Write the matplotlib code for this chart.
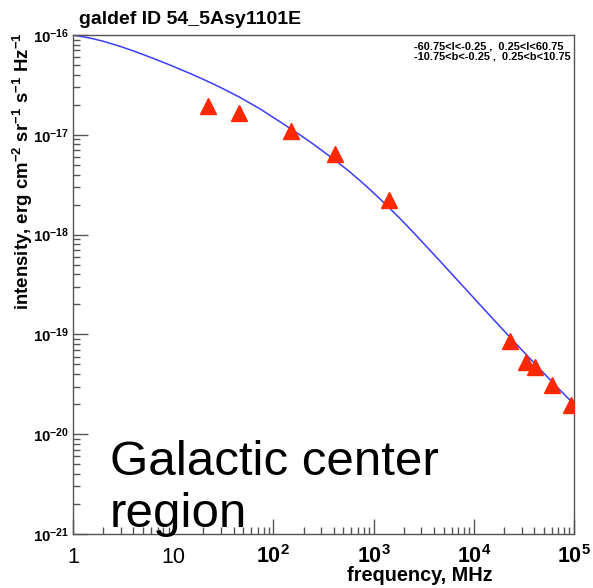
import numpy as np
import matplotlib
matplotlib.use("Agg")
import matplotlib.pyplot as plt
from matplotlib.ticker import LogLocator, FixedLocator, FixedFormatter, NullFormatter

plt.rcParams['font.family'] = ['Liberation Sans', 'DejaVu Sans']
plt.rcParams['mathtext.fontset'] = 'custom'
plt.rcParams['mathtext.rm'] = 'Liberation Sans:bold'
plt.rcParams['mathtext.bf'] = 'Liberation Sans:bold'
plt.rcParams['mathtext.default'] = 'rm'

# synchrotron model curve (MHz, erg cm^-2 sr^-1 s^-1 Hz^-1)
model_freq = [1.0, 1.48, 1.99, 2.94, 4.35, 6.58, 9.29, 14.7, 20.8, 29.3,
              46.4, 73.5, 116.4, 184.3, 248.5, 431.3, 581.6, 784.2, 1033,
              1360, 1834, 2474, 3411, 4599, 6200, 8554, 11530, 18260, 22450,
              32430, 45790, 64630, 91230, 100000]
model_int = [1.00e-16, 9.32e-17, 8.67e-17, 7.71e-17, 6.72e-17, 5.74e-17,
             5.00e-17, 4.12e-17, 3.53e-17, 3.00e-17, 2.37e-17, 1.82e-17,
             1.35e-17, 9.97e-18, 8.10e-18, 5.38e-18, 4.23e-18, 3.27e-18,
             2.54e-18, 1.95e-18, 1.45e-18, 1.06e-18, 7.50e-19, 5.43e-19,
             3.91e-19, 2.75e-19, 1.98e-19, 1.20e-19, 9.59e-20, 6.46e-20,
             4.48e-20, 3.12e-20, 2.19e-20, 2.00e-20]

# radio survey data points
data_freq = [22, 45, 150, 408, 1420, 22800, 33000, 41000, 61000, 94000]
data_int = [1.95e-17, 1.65e-17, 1.09e-17, 6.4e-18, 2.2e-18,
            8.5e-20, 5.25e-20, 4.7e-20, 3.1e-20, 1.95e-20]

x_ticks = [1, 10, 1e2, 1e3, 1e4, 1e5]
x_labels = ['1', '10', '$10^{2}$', '$10^{3}$', '$10^{4}$', '$10^{5}$']
y_ticks = [1e-21, 1e-20, 1e-19, 1e-18, 1e-17, 1e-16]
y_labels = ['$10^{-21}$', '$10^{-20}$', '$10^{-19}$', '$10^{-18}$',
            '$10^{-17}$', '$10^{-16}$']

fig = plt.figure(figsize=(5.93, 5.88), dpi=100)
ax = fig.add_axes([73 / 593, 1 - 534 / 588, 501 / 593, 499 / 588])

ax.plot(model_freq, model_int, color='#3c3cff', lw=1.1, zorder=2)
ax.plot(data_freq, data_int, linestyle='none', marker='^', ms=11.5,
        color='#ff2800', mec='#ff2800', zorder=3)

ax.set_xscale('log')
ax.set_yscale('log')
ax.set_xlim(1, 1e5)
ax.set_ylim(1e-21, 1e-16)

ax.xaxis.set_major_locator(FixedLocator(x_ticks))
ax.xaxis.set_major_formatter(FixedFormatter(x_labels))
ax.yaxis.set_major_locator(FixedLocator(y_ticks))
ax.yaxis.set_major_formatter(FixedFormatter(y_labels))
ax.xaxis.set_minor_locator(LogLocator(base=10, subs=np.arange(2, 10), numticks=20))
ax.yaxis.set_minor_locator(LogLocator(base=10, subs=np.arange(2, 10), numticks=20))
ax.xaxis.set_minor_formatter(NullFormatter())
ax.yaxis.set_minor_formatter(NullFormatter())

for s in ax.spines.values():
    s.set_color('#555555')
    s.set_linewidth(1.0)
ax.tick_params(which='both', direction='in', top=False, right=False,
               color='#555555', width=1.0)
ax.tick_params(which='major', length=10.5)
ax.tick_params(which='minor', length=5)
# baseline-aligned x labels so "1", "10" and "10^n" share one baseline
ax.tick_params(axis='x', labelsize=15.5, pad=21)
ax.tick_params(axis='y', labelsize=10.8, pad=3)
for lab in ax.get_xticklabels():
    lab.set_verticalalignment('baseline')

fig.text(493 / 593, 1 - 581 / 588, 'frequency, MHz', ha='right',
         va='baseline', fontsize=14.3, fontweight='bold')
fig.text(22.5 / 593, 1 - 32 / 588,
         'intensity, erg cm$^{-2}$ sr$^{-1}$ s$^{-1}$ Hz$^{-1}$',
         rotation=90, ha='center', va='top', fontsize=13.4, fontweight='bold')

fig.text(79 / 593, 1 - 24 / 588, 'galdef ID 54_5Asy1101E', ha='left',
         va='baseline', fontsize=14, fontweight='bold')
fig.text(414 / 593, 1 - 46.7 / 588, '-60.75<l<-0.25 ,  0.25<l<60.75',
         ha='left', va='center', fontsize=7.9, fontweight='bold')
fig.text(414 / 593, 1 - 56.7 / 588, '-10.75<b<-0.25 ,  0.25<b<10.75',
         ha='left', va='center', fontsize=7.9, fontweight='bold')

ax.text(0.074, 0.118, 'Galactic center', transform=ax.transAxes,
        ha='left', va='baseline', fontsize=35.5, clip_on=False)
ax.text(0.074, 0.014, 'region', transform=ax.transAxes,
        ha='left', va='baseline', fontsize=35.5, clip_on=False)

fig.savefig('out.png', dpi=100)
